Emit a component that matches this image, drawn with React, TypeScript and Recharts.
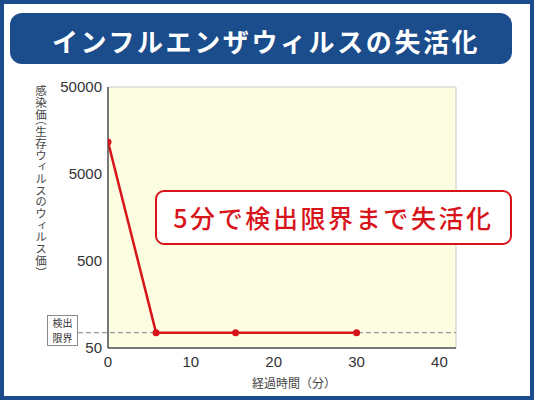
import React from 'react';
import { LineChart, Line, XAxis, YAxis, ReferenceArea, ReferenceLine } from 'recharts';

const title = 'インフルエンザウィルスの失活化';
const callout = '5分で検出限界まで失活化';
const yLabel = '感染価（生存ウィルスのウィルス価）';
const xLabel = '経過時間（分）';
const limitLabel = ['検出', '限界'];

const minutes = [0, 5.8, 15.4, 30];
const titer = [11700, 75, 75, 75];
const detectionLimit = 75;
const xTicks = [0, 10, 20, 30, 40];
const yTicks = [50, 500, 5000, 50000];

const data = minutes.map((m, i) => ({ m, v: titer[i] }));

const JP = '"Noto Sans CJK JP", "Noto Sans", sans-serif';
const NUM = '"Liberation Sans", Arial, sans-serif';

const LimitShape = (props: any) => {
  const { x2, y1 } = props;
  return (
    <line x1={78} y1={y1} x2={x2} y2={y1} stroke="#999" strokeWidth={1.3} strokeDasharray="5 3" />
  );
};

export default function App() {
  return (
    <div style={{ position: 'fixed', left: 0, top: 0, width: 534, height: 400, background: '#fff', overflow: 'hidden' }}>
      <div style={{ position: 'absolute', left: 0, top: 0, width: 534, height: 400, boxSizing: 'border-box', border: '4px solid #1b4c8c' }} />
      <div style={{ position: 'absolute', left: 10, top: 13, width: 502, height: 51, background: '#1b4c8c', borderRadius: 12 }} />
      <div style={{ position: 'absolute', left: 52, top: 15, height: 51, lineHeight: '51px', color: '#fff', fontFamily: JP, fontWeight: 700, fontSize: 26, letterSpacing: 2.6, whiteSpace: 'nowrap' }}>{title}</div>
      <div style={{ position: 'absolute', left: 0, top: 0 }}>
        <LineChart width={534} height={400} data={data} margin={{ top: 87, right: 78, bottom: 22, left: 48 }}>
          <XAxis dataKey="m" type="number" domain={[0, 42]} ticks={xTicks} allowDataOverflow height={30}
            axisLine={{ stroke: '#555', strokeWidth: 1.5 }} tickLine={false} tickSize={0} tickMargin={8}
            tick={{ fill: '#333', fontSize: 15, fontFamily: NUM }} />
          <YAxis dataKey="v" type="number" scale="log" domain={[50, 50000]} ticks={yTicks} allowDataOverflow width={60}
            axisLine={{ stroke: '#555', strokeWidth: 1.5 }} tickLine={false} tickSize={0} tickMargin={6}
            tick={{ fill: '#333', fontSize: 15, fontFamily: NUM }} />
          <ReferenceArea x1={0} x2={42} y1={50} y2={50000} fill="#fdfde1" fillOpacity={1} stroke="#c8c8c8" strokeWidth={1} ifOverflow="visible" />
          <ReferenceLine y={detectionLimit} ifOverflow="visible" shape={LimitShape} />
          <Line dataKey="v" stroke="#d7141a" strokeWidth={2.5} isAnimationActive={false}
            dot={{ r: 3.5, fill: '#d7141a', stroke: '#d7141a', strokeWidth: 0 }} />
        </LineChart>
      </div>
      <div style={{ position: 'absolute', left: 47, top: 315, width: 31, height: 31, boxSizing: 'border-box', border: '1px solid #888', background: '#fff', fontFamily: JP, fontSize: 10, lineHeight: '14.5px', color: '#333', textAlign: 'center', paddingTop: 0 }}>
        <div>{limitLabel[0]}</div>
        <div>{limitLabel[1]}</div>
      </div>
      <div style={{ position: 'absolute', left: 35, top: 85, writingMode: 'vertical-rl', fontFeatureSettings: '"vhal"', fontFamily: JP, fontSize: 11.5, letterSpacing: 0.2, color: '#444', whiteSpace: 'nowrap', lineHeight: '12px' }}>{yLabel}</div>
      <div style={{ position: 'absolute', left: 194, top: 374, width: 200, textAlign: 'center', fontFamily: JP, fontSize: 12, color: '#444' }}>{xLabel}</div>
      <div style={{ position: 'absolute', left: 155, top: 190, width: 357, height: 55, boxSizing: 'border-box', border: '2px solid #d7141a', borderRadius: 9, background: '#fff', color: '#d7141a', fontFamily: JP, fontWeight: 500, fontSize: 25, letterSpacing: 2.6, textAlign: 'center', lineHeight: '51px', whiteSpace: 'nowrap' }}>{callout}</div>
    </div>
  );
}
